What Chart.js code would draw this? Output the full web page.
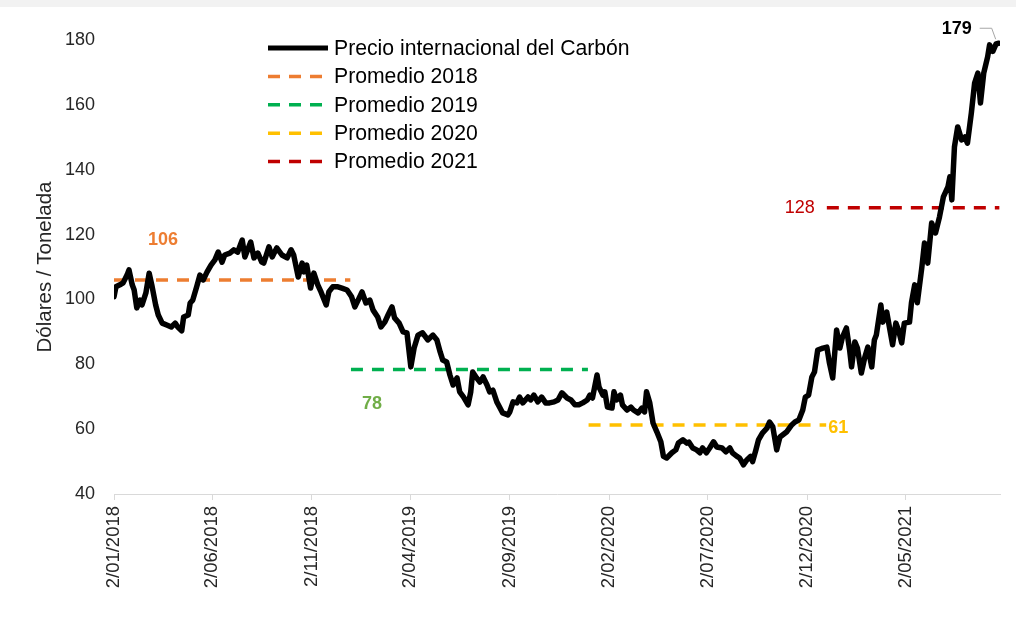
<!DOCTYPE html>
<html>
<head>
<meta charset="utf-8">
<script src="https://cdn.jsdelivr.net/npm/chart.js@4/dist/chart.umd.min.js"></script>
<style>
  html, body { margin: 0; padding: 0; background: #ffffff; }
  #wrap { width: 1016px; height: 627px; }
</style>
</head>
<body>
<div id="wrap"><canvas id="c" width="1016" height="627"></canvas></div>
<script>
// ---------------- DATA ----------------
const startDate = '2018-01-02';
// days elapsed since startDate
const dayOffsets = [
  0,3,9,14,20,23,28,31,35,40,43,49,54,58,64,68,74,81,88,94,98,104,107,114,117,121,127,132,137,143,
  149,155,160,166,170,178,184,190,197,201,210,215,221,227,230,238,243,250,258,266,272,276,283,289,292,296,
  302,307,313,318,326,330,336,344,350,358,365,370,375,381,387,393,398,405,410,416,421,427,431,438,444,450,
  456,461,467,474,482,490,496,501,505,511,516,521,527,531,537,544,548,551,557,562,567,573,577,582,588,593,
  597,605,608,613,619,623,628,636,640,645,651,657,663,669,676,682,688,696,702,708,714,720,727,731,735,742,
  745,751,754,758,765,768,772,778,781,788,794,798,805,811,815,818,823,828,834,840,844,849,857,863,867,874,
  880,883,889,895,900,904,910,915,921,926,934,940,946,950,957,961,967,972,978,981,986,990,996,1003,1007,1012,
  1018,1023,1027,1033,1041,1046,1052,1058,1062,1067,1072,1076,1081,1089,1095,1099,1104,1110,1115,1119,1125,1130,
  1133,1138,1142,1148,1153,1158,1164,1168,1171,1178,1181,1187,1190,1196,1201,1205,1210,1214,1222,1225,1230,1234,
  1241,1245,1250,1256,1262,1268,1274,1281,1284,1287,1291,1296,1302,1307,1311,1317,1322,1327,1331,1336,1342,1345,
  1350,1355,1359
];
// Precio internacional del Carbón (USD / t)
const prices = [
  100.8,103.9,104.5,105.1,107.5,109.1,104.5,102.9,97.4,99.8,98.3,102,108.1,104.5,98.3,95.2,92.7,92.1,91.5,92.7,
  91.5,90.3,94.6,95.2,98.9,99.8,103.9,107.5,106,108.5,
  110.6,112.2,114.6,111.5,113.7,114.3,115.3,114.6,118.3,113.1,117.7,112.8,114.3,111.5,111.2,116.2,113.1,115.9,113.7,112.8,115.3,113.7,106.9,111.2,108.5,110.6,
  103.5,108.1,104.5,102.3,98.3,102.3,103.9,103.9,103.5,102.9,100.8,97.7,99.8,102.3,98.9,99.8,96.7,94.6,91.5,93,95.2,97.7,94.3,92.7,90,89.7,
  79.2,85,89,89.7,87.5,89,87.5,83.8,81.3,80.7,76.7,73.6,75.8,71.5,69.9,67.5,71.5,77.6,75.8,74.5,76.1,73.6,71.5,72,68.4,66.5,
  65,64.4,65.3,68.4,68.1,69.9,68.1,69.9,69,70.5,68.4,69.9,68.1,68.1,68.4,69,71.2,69.6,69,67.5,67.5,68.1,69,70.5,69.6,76.7,
  73,70.5,71.5,66.8,66.5,71.5,69,70.5,67.5,65.9,66.8,65.9,65,66.5,65.3,71.5,68.1,61.9,59.1,56.1,51.6,51.1,52.7,53.6,55.7,56.7,
  55.7,56,54.2,53.6,52.7,54.2,52.7,54.2,56.1,54.5,54.2,53,54.2,52.7,51.6,51.1,49,50.5,51.6,50,53.6,56.7,58.8,60.3,62.2,60.7,
  53.6,57.6,58.2,59.1,61.3,62.2,62.8,65.9,69.9,70.5,76.1,77.6,84.4,85,85.3,80.4,75.8,90.6,85,88.4,91.2,84.4,
  79.2,86.9,85,77.3,81.9,85.3,79.2,87.5,89,98.3,93,96.1,92.7,86,92.7,90.6,86.6,92.7,93,99,104.5,99,
  110,117.4,111.2,123.6,120.5,125.4,131.6,134.7,137.8,130.7,147,153.2,149.2,150.1,148.2,157.5,166.7,169.8,160.6,169.8,174.8,178.5,
  176.5,178.8,179
];
const seriesLabel = 'Precio internacional del Carbón';
const averageLabels = ['Promedio 2018', 'Promedio 2019', 'Promedio 2020', 'Promedio 2021'];
const averageValues = [106, 78.4, 61.3, 128.3];
const averageStartDates = ['2018-01-02', '2019-01-01', '2020-01-01', '2021-01-01'];
const averageEndDates = ['2018-12-31', '2019-12-31', '2020-12-31', '2021-09-23'];
const tickLabels = ['2/01/2018', '2/06/2018', '2/11/2018', '2/04/2019', '2/09/2019', '2/02/2020', '2/07/2020', '2/12/2020', '2/05/2021'];
const yTickValues = [40, 60, 80, 100, 120, 140, 160, 180];

// ---------------- HELPERS ----------------
const DAY = 86400000;
const t0 = Date.parse(startDate + 'T00:00:00Z');
const isoToDays = s => Math.round((Date.parse(s + 'T00:00:00Z') - t0) / DAY);
const dmyToDays = s => { const [d, m, y] = s.split('/').map(Number); return Math.round((Date.UTC(y, m - 1, d) - t0) / DAY); };
const tickDays = tickLabels.map(dmyToDays);
const xMax = isoToDays(averageEndDates[3]) + 1;

const FONT = "'Liberation Sans', Arial, sans-serif";
const avgColors = ['#ED7D31', '#00B050', '#FFC000', '#C00000'];
const avgLabelColors = ['#ED7D31', '#70AD47', '#FFC000', '#C00000'];
const DASH = [12, 9];

const datasets = [{
  label: seriesLabel,
  data: dayOffsets.map((d, i) => ({ x: d, y: prices[i] })),
  borderColor: '#000000', borderWidth: 5.5, pointRadius: 0, tension: 0,
  borderJoinStyle: 'round', borderCapStyle: 'round', fill: false, order: 0
}];
averageLabels.forEach((lab, i) => {
  datasets.push({
    label: lab,
    data: [{ x: isoToDays(averageStartDates[i]), y: averageValues[i] },
           { x: isoToDays(averageEndDates[i]), y: averageValues[i] }],
    borderColor: avgColors[i], borderWidth: 3.5, borderDash: DASH, pointRadius: 0, fill: false, order: 1
  });
});

// ---------------- PLUGINS ----------------
const bgPlugin = {
  id: 'bg',
  beforeDraw(chart) {
    const ctx = chart.ctx;
    ctx.save();
    ctx.fillStyle = '#ffffff';
    ctx.fillRect(0, 0, chart.width, chart.height);
    ctx.fillStyle = '#f2f2f2';
    ctx.fillRect(0, 0, chart.width, 7);
    ctx.restore();
  }
};

const legendPlugin = {
  id: 'customLegend',
  afterDraw(chart) {
    const ctx = chart.ctx;
    const ca = chart.chartArea;
    const x0 = ca.left + 154, x1 = x0 + 60, tx = x1 + 6;
    const y0 = ca.top + 8, step = 28.4;
    ctx.save();
    chart.data.datasets.forEach((ds, i) => {
      const y = y0 + i * step;
      ctx.beginPath();
      ctx.strokeStyle = ds.borderColor;
      ctx.lineWidth = i === 0 ? 5 : 3.5;
      ctx.setLineDash(ds.borderDash || []);
      ctx.moveTo(x0, y); ctx.lineTo(x1, y);
      ctx.stroke();
      ctx.setLineDash([]);
      ctx.fillStyle = '#000000';
      ctx.font = '21.2px ' + FONT;
      ctx.textAlign = 'left'; ctx.textBaseline = 'middle';
      ctx.fillText(ds.label, tx, y + 1);
    });
    ctx.restore();
  }
};

const labelPlugin = {
  id: 'valueLabels',
  afterDatasetsDraw(chart) {
    const ctx = chart.ctx;
    const xs = chart.scales.x, ys = chart.scales.y;
    ctx.save();
    ctx.textBaseline = 'middle';
    // averages
    const place = [
      { anchor: 'start', dx: 49, dy: -40, align: 'center', bold: true },
      { anchor: 'start', dx: 21, dy: 35, align: 'center', bold: true },
      { anchor: 'end', dx: 2, dy: 3, align: 'left', bold: true },
      { anchor: 'start', dx: -12, dy: 0, align: 'right', bold: false }
    ];
    averageValues.forEach((v, i) => {
      const p = place[i];
      const d = p.anchor === 'start' ? isoToDays(averageStartDates[i]) : isoToDays(averageEndDates[i]);
      ctx.font = (p.bold ? 'bold ' : '') + '18px ' + FONT;
      ctx.fillStyle = avgLabelColors[i];
      ctx.textAlign = p.align;
      ctx.fillText(String(Math.round(v)), xs.getPixelForValue(d) + p.dx, ys.getPixelForValue(v) + p.dy);
    });
    // last value label with leader line
    const n = prices.length - 1;
    const px = xs.getPixelForValue(dayOffsets[n]);
    const py = ys.getPixelForValue(prices[n]);
    ctx.strokeStyle = '#a6a6a6'; ctx.lineWidth = 1;
    ctx.beginPath();
    ctx.moveTo(px - 19, py - 15); ctx.lineTo(px - 7, py - 15); ctx.lineTo(px - 3, py - 4);
    ctx.stroke();
    ctx.font = 'bold 18px ' + FONT;
    ctx.fillStyle = '#000000';
    ctx.textAlign = 'center';
    ctx.fillText(String(Math.round(prices[n])), px - 42, py - 14);
    ctx.restore();
  }
};

// ---------------- CHART ----------------
new Chart(document.getElementById('c'), {
  type: 'line',
  data: { datasets },
  options: {
    responsive: false,
    animation: false,
    layout: { padding: { top: 40, right: 16, bottom: 0, left: 0 } },
    plugins: { legend: { display: false }, tooltip: { enabled: false } },
    scales: {
      x: {
        type: 'linear', min: 0, max: xMax,
        afterBuildTicks: s => { s.ticks = tickDays.map(v => ({ value: v })); },
        afterFit: s => { s.height = 133; },
        ticks: {
          autoSkip: false, maxRotation: 90, minRotation: 90, padding: 6,
          color: '#262626', font: { size: 18.5, family: FONT },
          callback: (v, i) => tickLabels[i]
        },
        grid: { display: true, drawOnChartArea: false, drawTicks: true, tickLength: 6, color: '#d9d9d9' },
        border: { display: true, color: '#d9d9d9', width: 1 }
      },
      y: {
        min: 40, max: 180,
        afterBuildTicks: s => { s.ticks = yTickValues.map(v => ({ value: v })); },
        afterFit: s => { s.width = 114; },
        ticks: { padding: 19, color: '#262626', font: { size: 18, family: FONT } },
        grid: { display: false, drawTicks: false },
        border: { display: false },
        title: {
          display: true, text: 'Dólares / Tonelada', color: '#262626',
          font: { size: 20.5, family: FONT }, padding: { top: 33, bottom: 0 }
        }
      }
    }
  },
  plugins: [bgPlugin, legendPlugin, labelPlugin]
});
</script>
</body>
</html>
